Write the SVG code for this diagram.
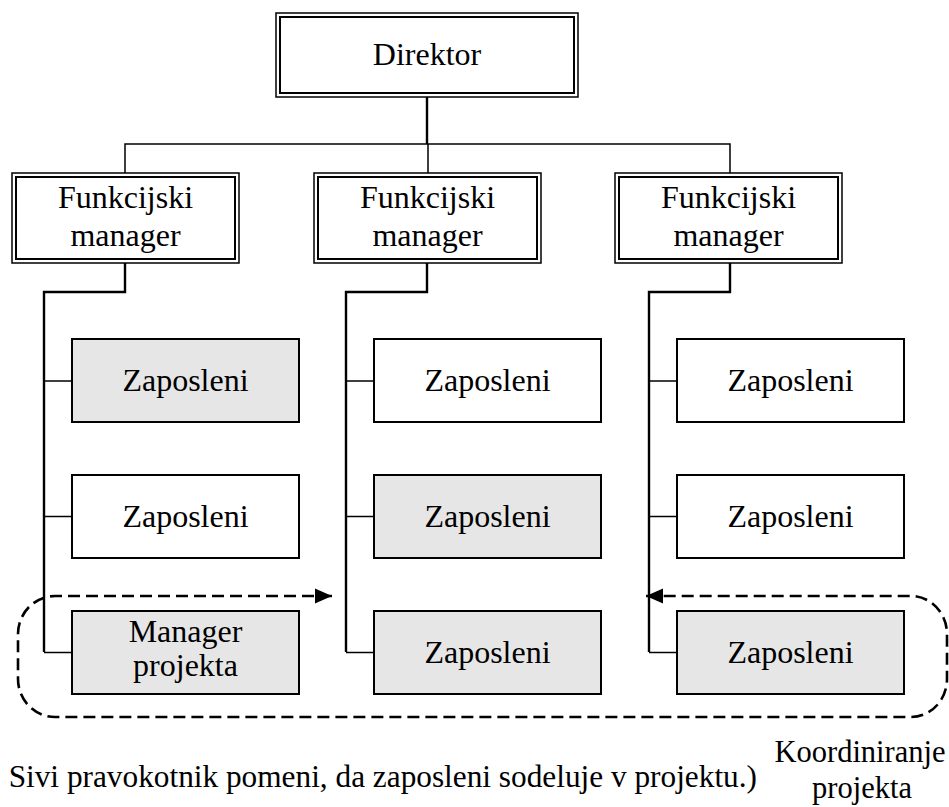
<svg xmlns="http://www.w3.org/2000/svg" width="949" height="807" viewBox="0 0 949 807">
<style>
text{font-family:"Liberation Serif","Times New Roman",serif;font-size:32px;fill:#000;text-anchor:middle}
.outer{fill:#fff;stroke:#000;stroke-width:1.5}
.inner{fill:none;stroke:#000;stroke-width:2}
.box{fill:#fff;stroke:#000;stroke-width:2}
.grey{fill:#e6e6e6;stroke:#000;stroke-width:2}
.thin{fill:none;stroke:#000;stroke-width:1.5}
.thick{fill:none;stroke:#000;stroke-width:2.4}
.dash{fill:none;stroke:#000;stroke-width:2.6;stroke-dasharray:12 6}
</style>
<defs>
<marker id="ah" viewBox="0 0 18 16" refX="17" refY="8" markerWidth="18" markerHeight="16" markerUnits="userSpaceOnUse" orient="auto-start-reverse">
<path d="M0,0.5 L17,8 L0,15.5 Z" fill="#000"/>
</marker>
</defs>
<rect width="949" height="807" fill="#fff"/>
<g id="connectors">
<path class="thick" d="M427,97 V144"/>
<path class="thin" d="M125,173 V144 H730 V173 M428,144 V173"/>
<path class="thick" d="M125,263 V292 H44 V652"/>
<path class="thick" d="M427,263 V292 H346 V652"/>
<path class="thick" d="M730,263 V292 H649 V652"/>
<path class="thin" d="M44,381 H72 M44,516.5 H72 M44,652.5 H72"/>
<path class="thin" d="M346,381 H374 M346,516.5 H374 M346,652.5 H374"/>
<path class="thin" d="M649,381 H677 M649,516.5 H677 M649,652.5 H677"/>
<path class="dash" marker-start="url(#ah)" marker-end="url(#ah)" d="M332,596 H55 A37 38 0 0 0 18,634 V679 A37 38 0 0 0 55,717 H911 A36 38 0 0 0 947,679 V634 A36 38 0 0 0 911,596 H646"/>
</g>
<g id="direktor">
<rect class="outer" x="276" y="13" width="302" height="84"/>
<rect class="inner" x="280" y="17" width="294" height="76"/>
<text x="427" y="65">Direktor</text>
</g>
<g id="fm1">
<rect class="outer" x="12" y="173" width="227" height="90"/>
<rect class="inner" x="16" y="177" width="219" height="82"/>
<text x="125.5" y="208">Funkcijski</text>
<text x="125.5" y="246">manager</text>
</g>
<g id="fm2">
<rect class="outer" x="314" y="173" width="227" height="90"/>
<rect class="inner" x="318" y="177" width="219" height="82"/>
<text x="427.5" y="208">Funkcijski</text>
<text x="427.5" y="246">manager</text>
</g>
<g id="fm3">
<rect class="outer" x="615" y="173" width="227" height="90"/>
<rect class="inner" x="619" y="177" width="219" height="82"/>
<text x="728.5" y="208">Funkcijski</text>
<text x="728.5" y="246">manager</text>
</g>
<g id="z11"><rect class="grey" x="72" y="339" width="227" height="83"/><text x="185.5" y="391">Zaposleni</text></g>
<g id="z12"><rect class="box" x="72" y="475" width="227" height="83"/><text x="185.5" y="527">Zaposleni</text></g>
<g id="mp"><rect class="grey" x="72" y="611" width="227" height="83"/><text x="185.5" y="642">Manager</text><text x="185.5" y="676">projekta</text></g>
<g id="z21"><rect class="box" x="374" y="339" width="227" height="83"/><text x="487.5" y="391">Zaposleni</text></g>
<g id="z22"><rect class="grey" x="374" y="475" width="227" height="83"/><text x="487.5" y="527">Zaposleni</text></g>
<g id="z23"><rect class="grey" x="374" y="611" width="227" height="83"/><text x="487.5" y="663">Zaposleni</text></g>
<g id="z31"><rect class="box" x="677" y="339" width="227" height="83"/><text x="790.5" y="391">Zaposleni</text></g>
<g id="z32"><rect class="box" x="677" y="475" width="227" height="83"/><text x="790.5" y="527">Zaposleni</text></g>
<g id="z33"><rect class="grey" x="677" y="611" width="227" height="83"/><text x="790.5" y="663">Zaposleni</text></g>
<g id="legend">
<text x="757" y="787" style="text-anchor:end;font-size:31.3px">Sivi pravokotnik pomeni, da zaposleni sodeluje v projektu.)</text>
<text x="860" y="762" style="font-size:30.5px">Koordiniranje</text>
<text x="862" y="798" style="font-size:30.5px">projekta</text>
</g>
</svg>
